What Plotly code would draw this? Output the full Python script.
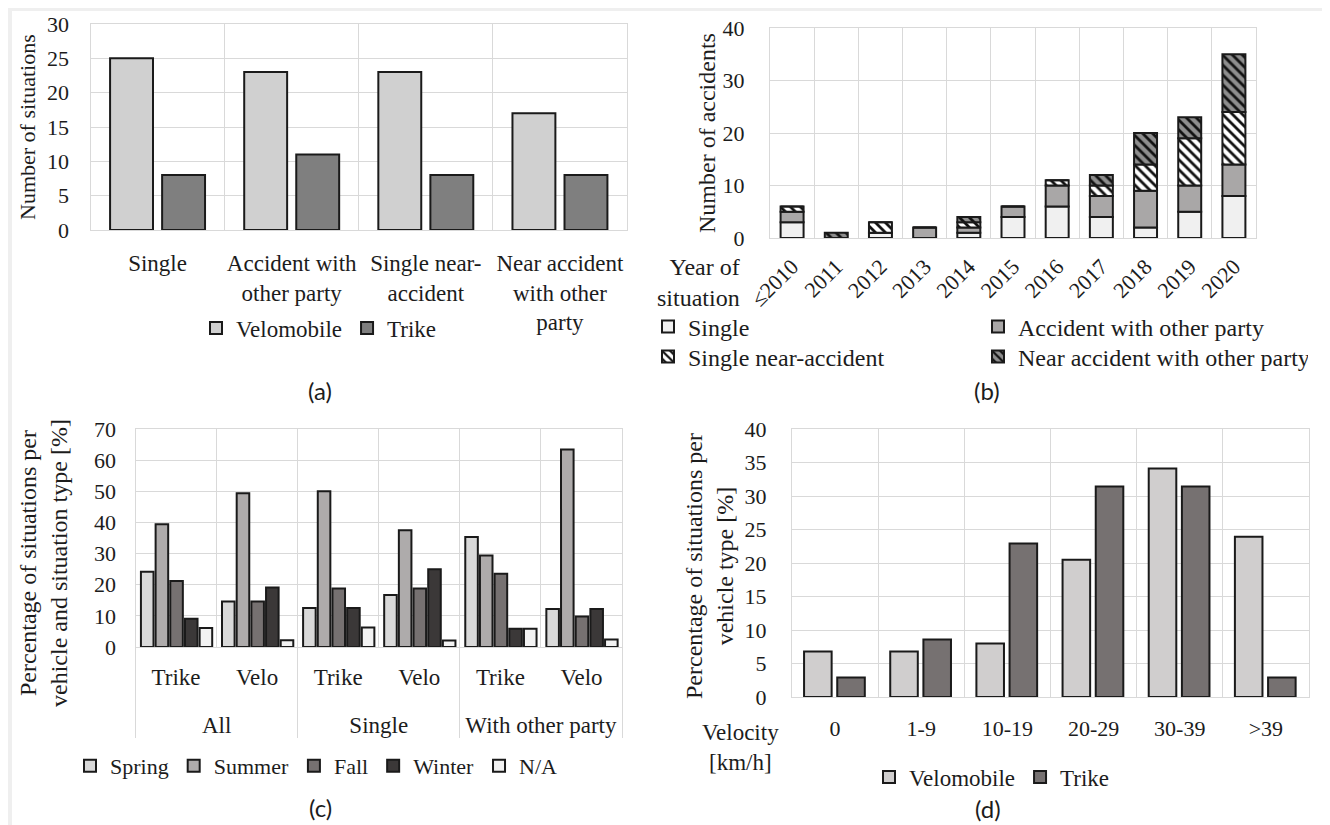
import plotly.graph_objects as go

W, H = 1330, 825
SHIFT = 8  # default page body margin offsets the figure in the window

# ---------------- data ----------------
# (a)
cats_a = ["Single", "Accident with<br>other party", "Single near-<br>accident",
          "Near accident<br>with other<br>party"]
velomobile_a = [25, 23, 23, 17]
trike_a = [8, 11, 8, 8]

# (b)
years_b = ["≤2010", "2011", "2012", "2013", "2014", "2015", "2016", "2017", "2018", "2019", "2020"]
single_b = [3, 0, 1, 0, 1, 4, 6, 4, 2, 5, 8]
accident_b = [2, 0, 0, 2, 1, 2, 4, 4, 7, 5, 6]
single_near_b = [1, 0, 2, 0, 1, 0, 1, 2, 5, 9, 10]
near_other_b = [0, 1, 0, 0, 1, 0, 0, 2, 6, 4, 11]

# (c)
groups_c = ["All", "All", "Single", "Single", "With other party", "With other party"]
vehicles_c = ["Trike", "Velo", "Trike", "Velo", "Trike", "Velo"]
spring_c = [24.2, 14.6, 12.5, 16.7, 35.3, 12.2]
summer_c = [39.4, 49.4, 50.0, 37.5, 29.4, 63.4]
fall_c = [21.2, 14.6, 18.8, 18.8, 23.5, 9.8]
winter_c = [9.1, 19.1, 12.5, 25.0, 5.9, 12.2]
na_c = [6.1, 2.2, 6.3, 2.1, 5.9, 2.4]

# (d)
velocity_d = ["0", "1-9", "10-19", "20-29", "30-39", ">39"]
velomobile_d = [6.8, 6.8, 8.0, 20.5, 34.1, 23.9]
trike_d = [2.9, 8.6, 22.9, 31.4, 31.4, 2.9]

# ---------------- style ----------------
FONT = "Liberation Serif"
SANS = "Lato"
TXT = "#1c1c1c"
GRID = "#d9d9d9"
OUT = dict(color="#1a1a1a", width=2)
FS = 23


def fx(px):
    return (px - SHIFT) / W


def fy(py):
    return 1 - (py - SHIFT) / H


def bar(x, y, name, color, xa, ya, legend, width, offset, base=None, pattern=None):
    marker = dict(color=color, line=OUT)
    if pattern is not None:
        marker["pattern"] = pattern
    return go.Bar(x=x, y=y, name=name, marker=marker, xaxis=xa, yaxis=ya,
                  legend=legend, width=width, offset=offset, base=base,
                  hoverinfo="skip")


fig = go.Figure()

# (a)
fig.add_trace(bar(cats_a, velomobile_a, "Velomobile", "#d0d0d0", "x", "y", "legend", 0.32, -0.354))
fig.add_trace(bar(cats_a, trike_a, "Trike", "#7f7f7f", "x", "y", "legend", 0.32, 0.034))

# (b) stacked via explicit bases
base_acc = [s for s in single_b]
base_sn = [s + a for s, a in zip(single_b, accident_b)]
base_no = [s + a + n for s, a, n in zip(single_b, accident_b, single_near_b)]
HATCH_W = dict(shape="\\", fgcolor="#111111", bgcolor="#ffffff", size=7, solidity=0.4, fillmode="replace")
HATCH_G = dict(shape="\\", fgcolor="#111111", bgcolor="#8e8e8e", size=7, solidity=0.4, fillmode="replace")
fig.add_trace(bar(years_b, single_b, "Single", "#f0f0f0", "x2", "y2", "legend2", 0.52, -0.26))
fig.add_trace(bar(years_b, accident_b, "Accident with other party", "#a9a7a7", "x2", "y2", "legend2", 0.52, -0.26, base=base_acc))
fig.add_trace(bar(years_b, single_near_b, "Single near-accident", "#ffffff", "x2", "y2", "legend3", 0.52, -0.26, base=base_sn, pattern=HATCH_W))
fig.add_trace(bar(years_b, near_other_b, "Near accident with other party", "#8e8e8e", "x2", "y2", "legend3", 0.52, -0.26, base=base_no, pattern=HATCH_G))

# (c)  inner labels get an empty second line so the outer level sits lower
xc = [groups_c, [v + "<br> " for v in vehicles_c]]
wc = 0.155
fig.add_trace(bar(xc, spring_c, "Spring", "#d9d9d9", "x3", "y3", "legend4", wc, -0.433))
fig.add_trace(bar(xc, summer_c, "Summer", "#aeabab", "x3", "y3", "legend4", wc, -0.252))
fig.add_trace(bar(xc, fall_c, "Fall", "#767171", "x3", "y3", "legend4", wc, -0.071))
fig.add_trace(bar(xc, winter_c, "Winter", "#3b3838", "x3", "y3", "legend4", wc, 0.110))
fig.add_trace(bar(xc, na_c, "N/A", "#f2f2f2", "x3", "y3", "legend4", wc, 0.291))

# (d)
fig.add_trace(bar(velocity_d, velomobile_d, "Velomobile", "#d0cece", "x4", "y4", "legend5", 0.32, -0.36))
fig.add_trace(bar(velocity_d, trike_d, "Trike", "#767171", "x4", "y4", "legend5", 0.32, 0.025))

numfont = dict(family=FONT, size=22, color=TXT)
catfont = dict(family=FONT, size=FS, color=TXT)


def xax(dom, anchor, **kw):
    d = dict(domain=dom, anchor=anchor, type="category", showgrid=True, gridcolor=GRID,
             gridwidth=1, tickson="boundaries", showline=True, mirror=True, linecolor=GRID,
             linewidth=1, ticks="", tickfont=catfont, zeroline=False, fixedrange=True)
    d.update(kw)
    return d


def yax(dom, anchor, rng, dtick, standoff, **kw):
    d = dict(domain=dom, anchor=anchor, range=rng, dtick=dtick, showgrid=True, gridcolor=GRID,
             gridwidth=1, showline=True, mirror=True, linecolor=GRID, linewidth=1, ticks="",
             tickfont=numfont, zeroline=False, fixedrange=True, ticklabelstandoff=standoff)
    d.update(kw)
    return d


layout = dict(
    width=W, height=H,
    margin=dict(l=0, r=0, t=0, b=0, autoexpand=False),
    paper_bgcolor="#efefef",
    plot_bgcolor="#ffffff",
    barmode="overlay",
    font=dict(family=FONT, size=FS, color=TXT),
    xaxis=xax([fx(90.5), fx(627)], "y", tickangle=0, ticklabelstandoff=12),
    yaxis=yax([fy(230), fy(24)], "x", [0, 30], 5, 16),
    xaxis2=xax([fx(770), fx(1256)], "y2", tickangle=-45, ticklabelstandoff=6, tickfont=numfont),
    yaxis2=yax([fy(238), fy(28)], "x2", [0, 40], 10, 20),
    xaxis3=xax([fx(135.5), fx(622)], "y3", type="multicategory", showdividers=True,
               dividercolor=GRID, dividerwidth=1, tickangle=0, ticklabelstandoff=9,
               ticks="outside", ticklen=22, tickcolor="rgba(0,0,0,0)"),
    yaxis3=yax([fy(647), fy(429)], "x3", [0, 70], 10, 14),
    xaxis4=xax([fx(792), fx(1309)], "y4", tickangle=0, ticklabelstandoff=12, tickfont=numfont),
    yaxis4=yax([fy(697), fy(429)], "x4", [0, 40], 5, 20),
)


def leg(x, y, size=FS, **kw):
    d = dict(x=fx(x), y=fy(y), xanchor="left", yanchor="middle", orientation="h",
             font=dict(family=FONT, size=size, color=TXT), bgcolor="rgba(0,0,0,0)",
             borderwidth=0, itemwidth=30, traceorder="normal", tracegroupgap=0)
    d.update(kw)
    return d


layout["legend"] = leg(196, 328)
layout["legend2"] = leg(648, 327, size=24, entrywidth=285)
layout["legend3"] = leg(648, 357, size=24, entrywidth=285)
layout["legend4"] = leg(70, 766, size=22)
layout["legend5"] = leg(869, 777)

fig.update_layout(**layout)

# white card
fig.add_shape(type="rect", xref="paper", yref="paper", x0=fx(12), x1=fx(1325), y0=-0.05, y1=fy(11),
              fillcolor="#ffffff", line=dict(width=0), layer="below")

ann = []


def text(x, y, s, angle=0, font=FONT, size=FS, align="center", xanchor="center"):
    ann.append(dict(x=fx(x), y=fy(y), xref="paper", yref="paper", text=s, showarrow=False,
                    textangle=angle, font=dict(family=font, size=size, color=TXT),
                    align=align, xanchor=xanchor, yanchor="middle"))


text(27, 127, "Number of situations", angle=-90, size=22)
text(707, 133, "Number of accidents", angle=-90, size=24)
text(43, 563, "Percentage of situations per<br>vehicle and situation type [%]", angle=-90, size=24)
text(709, 566, "Percentage of situations per<br>vehicle type [%]", angle=-90, size=24)
text(742, 283, "Year of<br>situation", align="right", xanchor="right", size=24)
text(740, 747, "Velocity<br>[km/h]")
text(320, 390, "(a)", font=SANS, size=24)
text(987, 390, "(b)", font=SANS, size=24)
text(320, 807, "(c)", font=SANS, size=24)
text(988, 808, "(d)", font=SANS, size=24)

fig.update_layout(annotations=ann)

fig.write_html("out.html")
